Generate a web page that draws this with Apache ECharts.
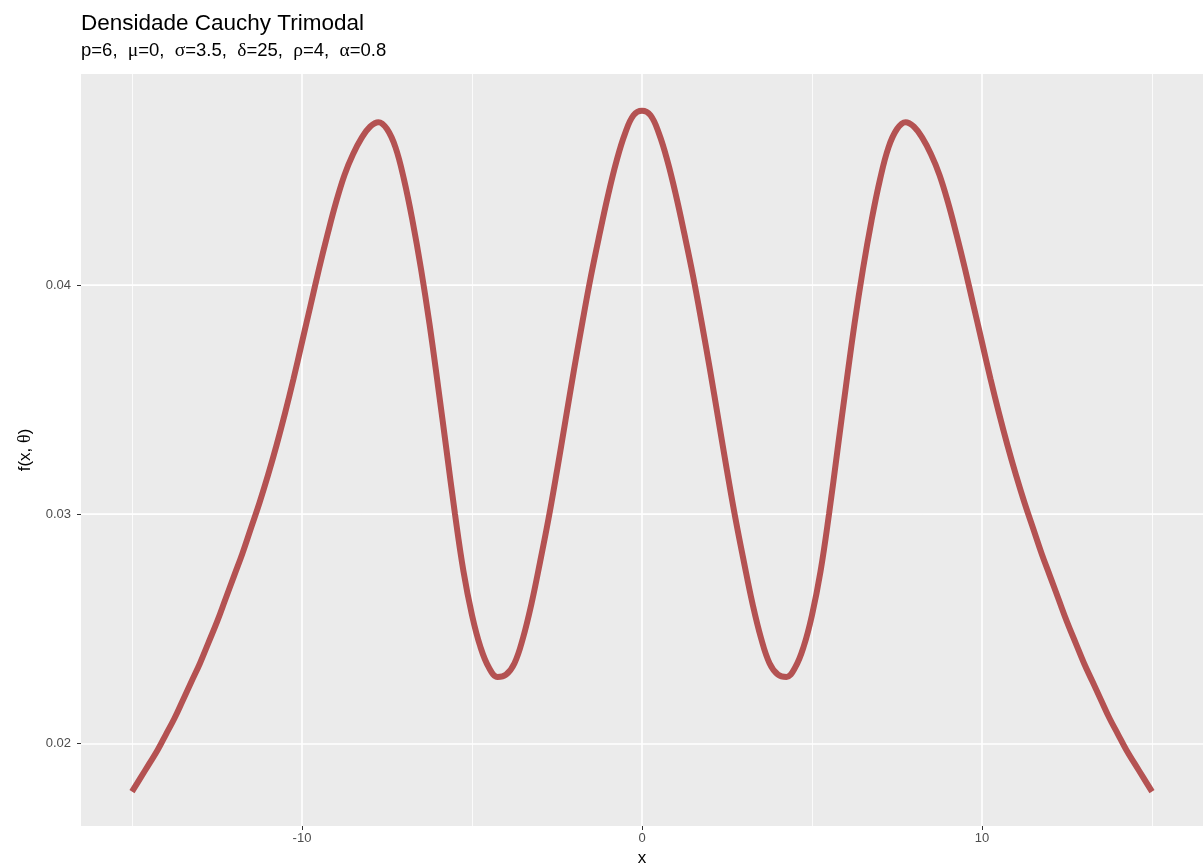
<!DOCTYPE html>
<html>
<head>
<meta charset="utf-8">
<script src="https://cdn.jsdelivr.net/npm/echarts@6/dist/echarts.min.js"></script>
<style>
  html, body { margin: 0; padding: 0; background: #fff; }
  #chart { width: 1203px; height: 865px; }
</style>
</head>
<body>
<div id="chart"></div>
<script>
// values, every 0.25 on x
const xs = [
  -15, -14.75, -14.5, -14.25, -14, -13.75, -13.5, -13.25, -13, -12.75,
  -12.5, -12.25, -12, -11.75, -11.5, -11.25, -11, -10.75, -10.5, -10.25,
  -10, -9.75, -9.5, -9.25, -9, -8.75, -8.5, -8.25, -8, -7.75,
  -7.5, -7.25, -7, -6.75, -6.5, -6.25, -6, -5.75, -5.5, -5.25,
  -5, -4.75, -4.5, -4.25, -4, -3.75, -3.5, -3.25, -3, -2.75,
  -2.5, -2.25, -2, -1.75, -1.5, -1.25, -1, -0.75, -0.5, -0.25,
  0,
  0.25, 0.5, 0.75, 1, 1.25, 1.5, 1.75, 2, 2.25, 2.5,
  2.75, 3, 3.25, 3.5, 3.75, 4, 4.25, 4.5, 4.75, 5,
  5.25, 5.5, 5.75, 6, 6.25, 6.5, 6.75, 7, 7.25, 7.5,
  7.75, 8, 8.25, 8.5, 8.75, 9, 9.25, 9.5, 9.75, 10,
  10.25, 10.5, 10.75, 11, 11.25, 11.5, 11.75, 12, 12.25, 12.5,
  12.75, 13, 13.25, 13.5, 13.75, 14, 14.25, 14.5, 14.75, 15
];
const ys = [
  0.0179, 0.0185, 0.0191, 0.0197, 0.0204, 0.0211, 0.0219, 0.0227, 0.0235, 0.0244,
  0.0253, 0.0263, 0.0273, 0.0283, 0.0294, 0.0305, 0.0317, 0.0330, 0.0344, 0.0359,
  0.0375, 0.0391, 0.0407, 0.0422, 0.0436, 0.0448, 0.0457, 0.0464, 0.0469, 0.0471,
  0.0468, 0.0460, 0.0446, 0.0428, 0.0407, 0.0383, 0.0356, 0.0328, 0.0300, 0.0275,
  0.0256, 0.0242, 0.0233, 0.0229, 0.0230, 0.0235, 0.0246, 0.0261, 0.0279, 0.0298,
  0.0319, 0.0341, 0.0363, 0.0384, 0.0404, 0.0422, 0.0439, 0.0454, 0.0466, 0.0474,
  0.0476,
  0.0474, 0.0466, 0.0454, 0.0439, 0.0422, 0.0404, 0.0384, 0.0363, 0.0341, 0.0319,
  0.0298, 0.0279, 0.0261, 0.0246, 0.0235, 0.0230, 0.0229, 0.0233, 0.0242, 0.0256,
  0.0275, 0.0300, 0.0328, 0.0356, 0.0383, 0.0407, 0.0428, 0.0446, 0.0460, 0.0468,
  0.0471, 0.0469, 0.0464, 0.0457, 0.0448, 0.0436, 0.0422, 0.0407, 0.0391, 0.0375,
  0.0359, 0.0344, 0.0330, 0.0317, 0.0305, 0.0294, 0.0283, 0.0273, 0.0263, 0.0253,
  0.0244, 0.0235, 0.0227, 0.0219, 0.0211, 0.0204, 0.0197, 0.0191, 0.0185, 0.0179
];
const xTicks = [-10, 0, 10];
const xMinor = [-15, -5, 5, 15];
const yTicks = [0.02, 0.03, 0.04];
const yMinor = [0.025, 0.035, 0.045];

const SANS = "Liberation Sans, Arial, Helvetica, sans-serif";
const SERIF = "Liberation Serif, Times New Roman, serif";

// ggplot-style white grid, drawn under the curve
const gridLines = [];
for (const v of xTicks) gridLines.push({ xAxis: v, lineStyle: { color: "#fff", width: 1.6, type: "solid" } });
for (const v of xMinor) gridLines.push({ xAxis: v, lineStyle: { color: "#fff", width: 0.8, type: "solid" } });
for (const v of yTicks) gridLines.push({ yAxis: v, lineStyle: { color: "#fff", width: 1.6, type: "solid" } });
for (const v of yMinor) gridLines.push({ yAxis: v, lineStyle: { color: "#fff", width: 0.8, type: "solid" } });

const chart = echarts.init(document.querySelector("#chart"), null, { renderer: "canvas" });
chart.setOption({
  animation: false,
  textStyle: { fontFamily: SANS },
  title: {
    text: "Densidade Cauchy Trimodal",
    subtext: "p=6,  {g|μ}=0,  {g|σ}=3.5,  {g|δ}=25,  {g|ρ}=4,  {g|α}=0.8",
    left: 76,
    top: 7,
    itemGap: 6,
    textStyle: { fontFamily: SANS, fontSize: 22.5, fontWeight: "normal", color: "#000" },
    subtextStyle: {
      fontFamily: SANS, fontSize: 18.5, color: "#000",
      rich: { g: { fontFamily: SERIF, fontSize: 19.5, color: "#000" } }
    }
  },
  grid: {
    left: 81, right: 0, top: 74, bottom: 39,
    outerBoundsMode: "none",
    containLabel: false,
    show: true, backgroundColor: "#EBEBEB", borderWidth: 0
  },
  xAxis: {
    type: "value",
    min: -16.5,
    max: 16.5,
    name: "x",
    nameLocation: "middle",
    nameGap: 19,
    nameTextStyle: { fontFamily: SANS, fontSize: 17, color: "#000" },
    axisLine: { show: false, onZero: false },
    splitLine: { show: false },
    axisTick: { show: true, customValues: xTicks, length: 4, lineStyle: { color: "#333", width: 1 } },
    axisLabel: { customValues: xTicks, color: "#4D4D4D", fontSize: 13, margin: 6 }
  },
  yAxis: {
    type: "value",
    min: 0.0164,
    max: 0.0492,
    name: "f(x, {g|θ})",
    nameLocation: "middle",
    nameGap: 47,
    nameTextStyle: {
      fontFamily: SANS, fontSize: 17, color: "#000",
      rich: { g: { fontFamily: SERIF, fontSize: 18, color: "#000" } }
    },
    axisLine: { show: false, onZero: false },
    splitLine: { show: false },
    axisTick: { show: true, customValues: yTicks, length: 4, lineStyle: { color: "#333", width: 1 } },
    axisLabel: {
      customValues: yTicks, color: "#4D4D4D", fontSize: 13, margin: 10,
      formatter: v => v.toFixed(2)
    }
  },
  series: [
    {
      type: "line",
      z: 10,
      data: xs.map((x, i) => [x, ys[i]]),
      smooth: 0.4,
      showSymbol: false,
      lineStyle: { color: "#B45252", width: 6 },
      markLine: { silent: true, z: 1, symbol: "none", label: { show: false }, data: gridLines }
    }
  ]
});
</script>
</body>
</html>
